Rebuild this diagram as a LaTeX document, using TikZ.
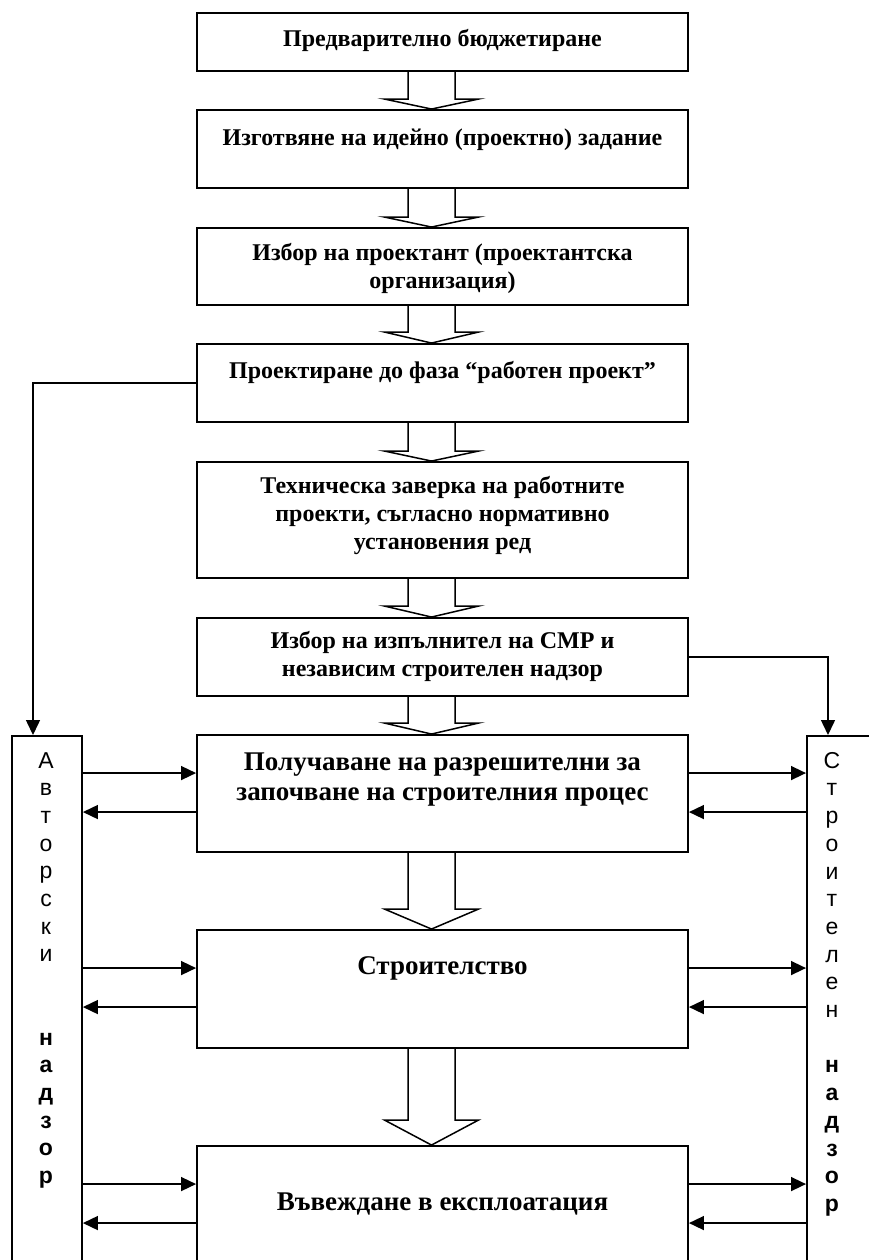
\documentclass[tikz,border=0pt]{standalone}
\usepackage{fontspec}
\setmainfont{Liberation Serif}
\newfontfamily\colfont{Liberation Sans}
\usetikzlibrary{positioning}
\usetikzlibrary{calc}
\usetikzlibrary{arrows.meta}

\begin{document}
\begin{tikzpicture}[x=1pt, y=-1pt,
    stage/.style={draw, line width=1.9pt, minimum width=491pt, inner sep=0pt},
    stagetext/.style={font=\bfseries\fontsize{24}{28}\selectfont, align=center, inner sep=0pt},
    bigtext/.style={font=\bfseries\fontsize{27}{30}\selectfont, align=center, inner sep=0pt},
    column/.style={draw, line width=1.9pt, minimum height=600pt, anchor=north west, inner sep=0pt},
    coltext/.style={font=\colfont\fontsize{23}{27.7}\selectfont, align=center, inner sep=0pt, anchor=north},
    link/.style={line width=1.5pt, -{Triangle[length=15pt,width=14pt]}},
    hollow/.style={line width=1.5pt, line join=miter}]

        \useasboundingbox (0,0) rectangle (868,1260);

        % stages
        \node[stage, minimum height=58pt] (b1) at (442.5,42) {};
        \node[stage, minimum height=78pt] (b2) at (442.5,149) {};
        \node[stage, minimum height=77pt] (b3) at (442.5,266.5) {};
        \node[stage, minimum height=78pt] (b4) at (442.5,383) {};
        \node[stage, minimum height=116pt] (b5) at (442.5,520) {};
        \node[stage, minimum height=78pt] (b6) at (442.5,657) {};
        \node[stage, minimum height=117pt] (b7) at (442.5,793.5) {};
        \node[stage, minimum height=118pt] (b8) at (442.5,989) {};
        \node[stage, minimum height=160pt] (b9) at (442.5,1226) {};

        \node[stagetext] (t1) at (442.5,40) {Предварително бюджетиране};
        \node[stagetext] (t2) at (442.5,140) {Изготвяне на идейно (проектно) задание};
        \node[stagetext] (t3) at (442.5,268) {Избор на проектант (проектантска\\организация)};
        \node[stagetext] (t4) at (442.5,372) {Проектиране до фаза “работен проект”};
        \node[stagetext] (t5) at (442.5,515) {Техническа заверка на работните\\проекти, съгласно нормативно\\установения ред};
        \node[stagetext] (t6) at (442.5,656) {Избор на изпълнител на СМР и\\независим строителен надзор};
        \node[bigtext] (t7) at (442.5,780) {Получаване на разрешителни за\\започване на строителния процес};
        \node[bigtext] (t8) at (442.5,968) {Строителство};
        \node[bigtext] (t9) at (442.5,1204) {Въвеждане в експлоатация};

        % supervision columns
        \node[column, minimum width=70pt] (ln) at (11,735) {};
        \node[column, minimum width=100pt] (rn) at (806,735) {};
        \node[coltext] (lt) at (46,752) {А\\в\\т\\о\\р\\с\\к\\и\\[55.4pt]\bfseries н\\\bfseries а\\\bfseries д\\\bfseries з\\\bfseries о\\\bfseries р};
        \node[coltext] (rt) at (832,752) {С\\т\\р\\о\\и\\т\\е\\л\\е\\н\\[27.7pt]\bfseries н\\\bfseries а\\\bfseries д\\\bfseries з\\\bfseries о\\\bfseries р};

        % hollow arrows between stages
        \coordinate (ax) at (431.5,0);
        \foreach \from/\to/\h in {b1/b2/10, b2/b3/10, b3/b4/11, b4/b5/10, b5/b6/11, b6/b7/11, b7/b8/20, b8/b9/25} {
          \draw[hollow] ($(\from.south -| ax)+(-23.5,0)$) -- ($(\to.north -| ax)+(-23.5,-\h)$) -- ++(-23.5,0)
            -- (\to.north -| ax) -- ($(\to.north -| ax)+(47,-\h)$) -- ++(-23.5,0) -- ($(\from.south -| ax)+(23.5,0)$);
        }

        \draw[link] (b4.west) -| ($(ln.north west)+(22,0)$);
        \draw[link] (b6.east) -| ($(rn.north west)+(22,0)$);

        \foreach \b in {b7,b8,b9} {
          \coordinate (\b-in) at ($(\b.north)+(0,39)$);
          \coordinate (\b-out) at ($(\b.north)+(0,78)$);
          \draw[link] (ln.east |- \b-in) -- (\b.west |- \b-in);
          \draw[link] (\b.west |- \b-out) -- (ln.east |- \b-out);
          \draw[link] (\b.east |- \b-in) -- (rn.west |- \b-in);
          \draw[link] (rn.west |- \b-out) -- (\b.east |- \b-out);
        }

      \end{tikzpicture}
\end{document}
